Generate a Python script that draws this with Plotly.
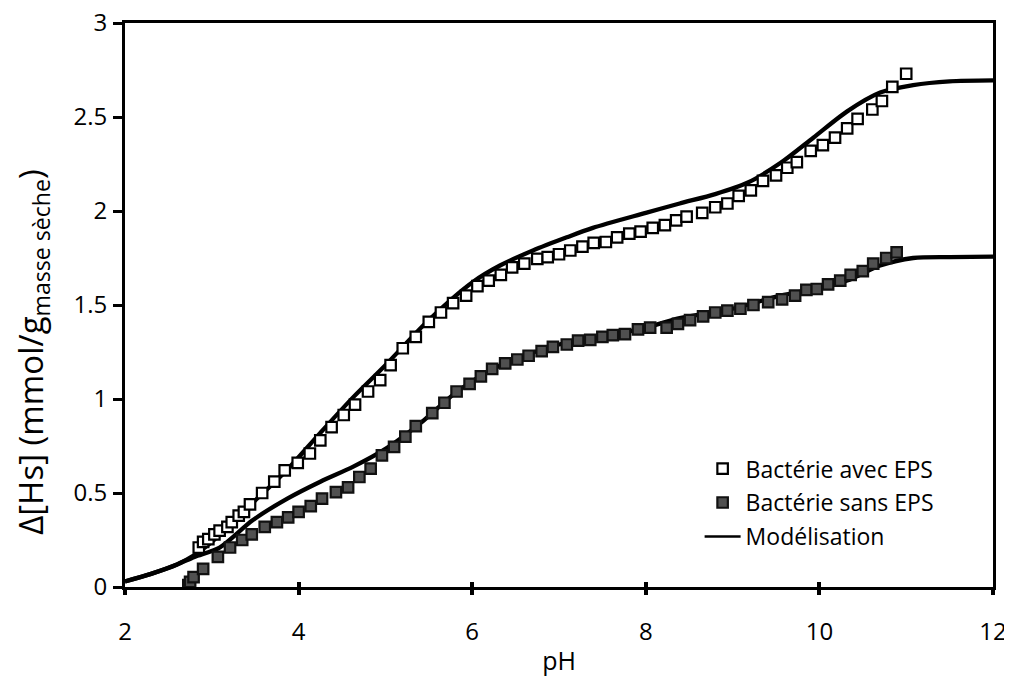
import plotly.graph_objects as go

# Bactérie avec EPS (open squares)
ph_avec = [2.85, 2.90, 2.96, 3.03, 3.09, 3.18, 3.23, 3.31, 3.37, 3.44, 3.58, 3.72, 3.84, 3.99,
           4.13, 4.25, 4.38, 4.52, 4.65, 4.80, 4.94, 5.06, 5.20, 5.35, 5.50, 5.64, 5.78, 5.93,
           6.06, 6.19, 6.33, 6.46, 6.60, 6.75, 6.87, 7.00, 7.13, 7.27, 7.40, 7.54, 7.67, 7.81,
           7.94, 8.08, 8.22, 8.35, 8.47, 8.65, 8.80, 8.94, 9.07, 9.21, 9.35, 9.50, 9.63, 9.74,
           9.90, 10.04, 10.18, 10.32, 10.44, 10.61, 10.72, 10.84, 11.00]
hs_avec = [0.21, 0.24, 0.255, 0.28, 0.30, 0.32, 0.345, 0.38, 0.40, 0.44, 0.50, 0.56, 0.62, 0.66,
           0.71, 0.78, 0.85, 0.915, 0.97, 1.04, 1.10, 1.18, 1.27, 1.33, 1.41, 1.46, 1.51, 1.55,
           1.60, 1.63, 1.66, 1.70, 1.72, 1.745, 1.755, 1.77, 1.79, 1.81, 1.83, 1.835, 1.86, 1.88,
           1.89, 1.91, 1.925, 1.95, 1.97, 1.99, 2.02, 2.04, 2.08, 2.11, 2.16, 2.19, 2.23, 2.26,
           2.32, 2.35, 2.39, 2.44, 2.49, 2.54, 2.585, 2.66, 2.73]

# Bactérie sans EPS (filled squares)
ph_sans = [2.73, 2.75, 2.79, 2.90, 3.07, 3.21, 3.35, 3.46, 3.61, 3.75, 3.88, 4.00, 4.14, 4.27,
           4.43, 4.57, 4.70, 4.83, 4.96, 5.10, 5.23, 5.35, 5.54, 5.68, 5.82, 5.97, 6.10, 6.23,
           6.38, 6.52, 6.65, 6.80, 6.93, 7.09, 7.22, 7.36, 7.50, 7.62, 7.76, 7.91, 8.05, 8.24,
           8.37, 8.51, 8.66, 8.80, 8.94, 9.09, 9.24, 9.41, 9.57, 9.72, 9.85, 9.97, 10.10, 10.24,
           10.36, 10.50, 10.62, 10.77, 10.89]
hs_sans = [0.01, 0.027, 0.053, 0.096, 0.16, 0.21, 0.25, 0.28, 0.32, 0.345, 0.37, 0.40, 0.43, 0.47,
           0.505, 0.53, 0.585, 0.63, 0.70, 0.745, 0.80, 0.856, 0.925, 0.98, 1.04, 1.08, 1.12, 1.16,
           1.19, 1.21, 1.23, 1.255, 1.277, 1.29, 1.31, 1.315, 1.33, 1.34, 1.345, 1.37, 1.38, 1.38,
           1.40, 1.42, 1.44, 1.46, 1.47, 1.48, 1.50, 1.515, 1.53, 1.55, 1.58, 1.585, 1.61, 1.63,
           1.66, 1.68, 1.72, 1.75, 1.78]

# Modélisation curves
ph_mod_avec = [2.0, 2.3, 2.6, 2.8, 3.0, 3.3, 3.5, 3.86, 4.25, 4.63, 5.0, 5.5, 6.0, 6.32, 6.70,
               7.09, 7.39, 8.0, 8.39, 8.8, 9.17, 9.55, 9.93, 10.32, 10.70, 11.08, 11.5, 12.0]
hs_mod_avec = [0.03, 0.07, 0.12, 0.17, 0.24, 0.37, 0.46, 0.62, 0.82, 1.01, 1.18, 1.42, 1.62, 1.71,
               1.79, 1.86, 1.91, 1.99, 2.04, 2.09, 2.15, 2.255, 2.39, 2.53, 2.63, 2.67, 2.69, 2.695]
ph_mod_sans = [2.0, 2.3, 2.6, 2.8, 3.09, 3.47, 3.87, 4.25, 4.63, 5.02, 5.4, 5.8, 6.2, 6.6, 7.0,
               7.5, 8.0, 8.39, 9.0, 9.55, 10.0, 10.32, 10.70, 11.08, 11.5, 12.0]
hs_mod_sans = [0.03, 0.07, 0.12, 0.16, 0.21, 0.355, 0.47, 0.56, 0.64, 0.74, 0.87, 1.03, 1.15, 1.23,
               1.29, 1.33, 1.38, 1.43, 1.48, 1.55, 1.59, 1.63, 1.71, 1.75, 1.755, 1.757]

x_ticks = [2, 4, 6, 8, 10, 12]
y_ticks = [0, 0.5, 1, 1.5, 2, 2.5, 3]
y_tick_text = ["0", "0.5", "1", "1.5", "2", "2.5", "3"]

FONT = "Open Sans"

fig = go.Figure()
fig.add_trace(go.Scatter(x=ph_mod_avec, y=hs_mod_avec, mode="lines",
                         line=dict(color="black", width=4.3, shape="spline", smoothing=0.8),
                         showlegend=False, hoverinfo="skip"))
fig.add_trace(go.Scatter(x=ph_mod_sans, y=hs_mod_sans, mode="lines",
                         line=dict(color="black", width=4.3, shape="spline", smoothing=0.8),
                         showlegend=False, hoverinfo="skip"))
fig.add_trace(go.Scatter(x=ph_avec, y=hs_avec, mode="markers", name="Bactérie avec EPS",
                         legendgroup="a",
                         marker=dict(symbol="square", size=10.5, color="white",
                                     line=dict(color="black", width=2.2))))
fig.add_trace(go.Scatter(x=ph_sans, y=hs_sans, mode="markers", name="Bactérie sans EPS",
                         legendgroup="b",
                         marker=dict(symbol="square", size=10.5, color="#505050",
                                     line=dict(color="#111111", width=2.2))))
fig.add_trace(go.Scatter(x=[None], y=[None], mode="lines", name="Modélisation",
                         legendgroup="c", line=dict(color="black", width=2.5)))

# inside half of the crossing tick marks on the x axis
fig.add_trace(go.Scatter(x=[None], y=[None], xaxis="x2", showlegend=False))

# the page body adds an 8 px margin, so the figure is 1004x680 placed at (8, 8)
fig.update_layout(
    width=1004, height=680,
    margin=dict(l=117, r=19, t=15, b=101),
    paper_bgcolor="white", plot_bgcolor="white",
    font=dict(family=FONT, size=24, color="black"),
    xaxis=dict(range=[2, 12], tickvals=x_ticks, ticks="outside", ticklen=5, tickwidth=4,
               tickcolor="black", showline=True, linecolor="black", linewidth=3, mirror=True,
               showgrid=False, zeroline=False, automargin=False, ticklabeloverflow="allow",
               tickfont=dict(family=FONT, size=24), ticklabelstandoff=16,
               title=dict(text="pH", font=dict(family=FONT, size=25), standoff=7)),
    xaxis2=dict(range=[2, 12], tickvals=x_ticks, ticks="inside", ticklen=5, tickwidth=4,
                tickcolor="black", overlaying="x", side="bottom", showticklabels=False,
                showline=False, showgrid=False, zeroline=False, automargin=False),
    yaxis=dict(range=[0, 3], tickvals=y_ticks, ticktext=y_tick_text, ticks="outside",
               ticklen=9, tickwidth=3, tickcolor="black", showline=True, linecolor="black",
               linewidth=3, mirror=True, showgrid=False, zeroline=False, automargin=False,
               ticklabeloverflow="allow",
               tickfont=dict(family=FONT, size=24), ticklabelstandoff=1),
    legend=dict(x=0.662, y=0.248, xanchor="left", yanchor="top", bgcolor="rgba(0,0,0,0)",
                font=dict(family=FONT, size=23), traceorder="grouped", tracegroupgap=1,
                itemwidth=36),
    showlegend=True,
    annotations=[dict(text="Δ[Hs] (mmol/g<sub>masse sèche</sub>)", textangle=-90,
                      xref="paper", yref="paper", x=-0.106, y=0.417,
                      xanchor="center", yanchor="middle", showarrow=False,
                      font=dict(family=FONT, size=33))],
)

fig.write_html("out.html")
